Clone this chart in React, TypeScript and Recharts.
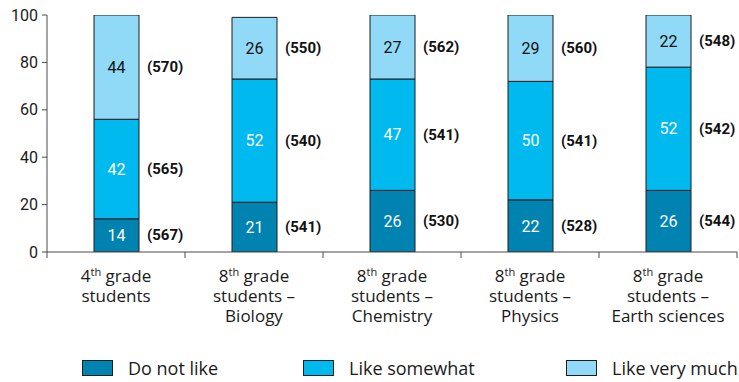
import React from "react";
import { BarChart, Bar, XAxis, YAxis, LabelList } from "recharts";

// Share of students (%) by how much they like science
const gradeNumbers = ["4", "8", "8", "8", "8"];
const subjects = ["", "Biology", "Chemistry", "Physics", "Earth sciences"];
const doNotLike = [14, 21, 26, 22, 26];
const likeSomewhat = [42, 52, 47, 50, 52];
const likeVeryMuch = [44, 26, 27, 29, 22];
// Mean scores shown in brackets next to each segment
const scoreDoNotLike = [567, 541, 530, 528, 544];
const scoreSomewhat = [565, 540, 541, 541, 542];
const scoreVeryMuch = [570, 550, 562, 560, 548];
const yTicks = [0, 20, 40, 60, 80, 100];

const WIDTH = 739;
const HEIGHT = 382;
const Y_AXIS_WIDTH = 47;
const MARGIN = { top: 15, right: 2, left: 0, bottom: 0 };
const BAND = (WIDTH - Y_AXIS_WIDTH - MARGIN.left - MARGIN.right) / gradeNumbers.length;

const COLORS = {
  dark: "#0083b1",
  mid: "#00b9ef",
  light: "#90d9f7",
  edge: "#1d1d1d",
  axis: "#4a4a4a",
};

const NUM_FONT = "Roboto, 'Liberation Sans', Arial, sans-serif";
const TEXT_FONT = "'Open Sans', 'Noto Sans', sans-serif";

const series = [
  { key: "doNotLike", scoreKey: "scoreDoNotLike", name: "Do not like", color: COLORS.dark, text: "#ffffff" },
  { key: "likeSomewhat", scoreKey: "scoreSomewhat", name: "Like somewhat", color: COLORS.mid, text: "#ffffff" },
  { key: "likeVeryMuch", scoreKey: "scoreVeryMuch", name: "Like very much", color: COLORS.light, text: "#111111" },
];

const rows = gradeNumbers.map((g, i) => ({
  name: `${g}th grade ${subjects[i]}`.trim(),
  doNotLike: doNotLike[i],
  likeSomewhat: likeSomewhat[i],
  likeVeryMuch: likeVeryMuch[i],
  scoreDoNotLike: scoreDoNotLike[i],
  scoreSomewhat: scoreSomewhat[i],
  scoreVeryMuch: scoreVeryMuch[i],
}));

const CategoryTick = (props: any) => {
  const { x, y, index } = props;
  const subject = subjects[index];
  const fs = 17;
  return (
    <g>
      {index === 0 && (
        <line x1={x - BAND / 2} x2={x - BAND / 2} y1={y - 8} y2={y - 2} stroke={COLORS.axis} />
      )}
      <line x1={x + BAND / 2} x2={x + BAND / 2} y1={y - 8} y2={y - 2} stroke={COLORS.axis} />
      <text x={x} y={y + 22} textAnchor="middle" fontFamily={TEXT_FONT} fontSize={fs} fill="#1a1a1a">
        <tspan>{gradeNumbers[index]}</tspan>
        <tspan fontSize={11} dy={-6}>th</tspan>
        <tspan dy={6}> grade</tspan>
        <tspan x={x} dy={20}>{subject ? "students –" : "students"}</tspan>
        {subject && (
          <tspan x={x} dy={20}>{subject}</tspan>
        )}
      </text>
    </g>
  );
};

const ScoreLabel = (props: any) => {
  const { x, y, width, height, value } = props;
  return (
    <text
      x={Number(x) + Number(width) + 8}
      y={Number(y) + Number(height) / 2}
      dominantBaseline="central"
      fontFamily={NUM_FONT}
      fontWeight="bold"
      fontSize={15}
      fill="#111111"
    >
      ({value})
    </text>
  );
};

const legendLeft = [82, 303, 566];

const ChartLegend = () => (
  <div style={{ position: "absolute", left: 0, top: 356, width: WIDTH, height: 26 }}>
    {series.map((s, i) => (
      <div
        key={s.key}
        style={{
          position: "absolute",
          left: legendLeft[i],
          top: 0,
          display: "flex",
          alignItems: "center",
          fontFamily: TEXT_FONT,
          fontSize: 18,
          color: "#1a1a1a",
          whiteSpace: "nowrap",
        }}
      >
        <span
          style={{
            display: "inline-block",
            width: 29,
            height: 14,
            background: s.color,
            border: `1px solid ${COLORS.edge}`,
            marginRight: 15,
          }}
        />
        <span>{s.name}</span>
      </div>
    ))}
  </div>
);

export default function App() {
  return (
    <div style={{ position: "absolute", left: 0, top: 0, width: WIDTH, height: HEIGHT, background: "#ffffff" }}>
      <BarChart width={WIDTH} height={HEIGHT} data={rows} margin={MARGIN} barSize={45}>
        <XAxis
          dataKey="name"
          height={HEIGHT - 252 - MARGIN.bottom}
          interval={0}
          tickLine={false}
          axisLine={{ stroke: COLORS.axis }}
          tick={<CategoryTick />}
        />
        <YAxis
          width={Y_AXIS_WIDTH}
          domain={[0, 100]}
          ticks={yTicks}
          interval={0}
          allowDataOverflow
          axisLine={{ stroke: COLORS.axis }}
          tickLine={{ stroke: COLORS.axis }}
          tickSize={5}
          tickMargin={4}
          tick={{ fontFamily: NUM_FONT, fontSize: 16, fill: "#1a1a1a" }}
        />
        {series.map((s) => (
          <Bar
            key={s.key}
            dataKey={s.key}
            stackId="a"
            fill={s.color}
            stroke={COLORS.edge}
            strokeWidth={1}
            isAnimationActive={false}
          >
            <LabelList
              dataKey={s.key}
              position="center"
              fill={s.text}
              fontFamily={NUM_FONT}
              fontSize={16}
            />
            <LabelList dataKey={s.scoreKey} content={<ScoreLabel />} />
          </Bar>
        ))}
      </BarChart>
      <ChartLegend />
    </div>
  );
}
